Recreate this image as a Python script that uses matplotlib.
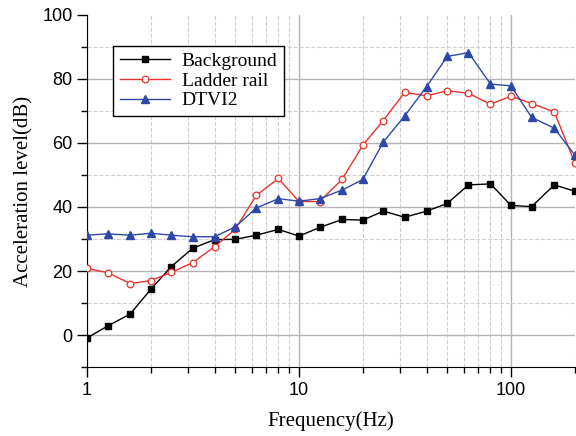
import matplotlib.pyplot as plt
from matplotlib.ticker import LogLocator, NullFormatter, FixedLocator

freq = [1, 1.25, 1.6, 2, 2.5, 3.15, 4, 5, 6.3, 8, 10, 12.5, 16, 20, 25, 31.5,
        40, 50, 63, 80, 100, 125, 160, 200]

background = [-0.9, 2.8, 6.6, 14.3, 21.4, 27.1, 29.8, 29.9, 31.2, 33.0, 30.9, 33.6,
              36.1, 35.9, 38.7, 36.8, 38.7, 41.1, 46.9, 47.2, 40.5, 40.1, 46.9, 44.9]
ladder = [20.8, 19.5, 16.1, 17.0, 19.6, 22.6, 27.6, 33.0, 43.7, 48.9, 41.7, 41.7,
          48.7, 59.3, 67.0, 75.8, 74.7, 76.3, 75.5, 72.1, 74.6, 72.3, 69.7, 53.7]
dtvi2 = [31.2, 31.6, 31.2, 31.8, 31.2, 30.7, 30.7, 33.8, 39.7, 42.6, 41.8, 42.6,
         45.3, 48.6, 60.3, 68.4, 77.6, 87.0, 88.2, 78.4, 77.8, 68.0, 64.6, 56.2]

labfont = 'Liberation Serif'
tickfont = 'Liberation Sans'

fig = plt.figure(figsize=(5.76, 4.36), dpi=100)
ax = fig.add_axes([0.151, 0.158, 0.847, 0.808])

ax.plot(freq, background, color='black', marker='s', markersize=4.5, lw=1,
        label='Background', zorder=3)
ax.plot(freq, ladder, color='#e8322b', marker='o', markersize=4.8, lw=1,
        markerfacecolor='white', markeredgewidth=0.9, label='Ladder rail', zorder=3)
ax.plot(freq, dtvi2, color='#2f48a8', marker='^', markersize=5.5, lw=1,
        label='DTVI2', zorder=3)

ax.set_xscale('log')
ax.set_xlim(1, 200)
ax.set_ylim(-10, 100)
ax.xaxis.set_major_locator(FixedLocator([1, 10, 100]))
ax.xaxis.set_minor_locator(LogLocator(base=10, subs=range(2, 10)))
ax.xaxis.set_minor_formatter(NullFormatter())
ax.set_xticklabels(['1', '10', '100'])
ax.set_yticks([0, 20, 40, 60, 80, 100])
ax.set_yticks([-10, 10, 30, 50, 70, 90], minor=True)

ax.grid(which='major', color='#b4b4b4', lw=1, ls='-', zorder=0)
ax.grid(which='minor', color='#cfcfcf', lw=0.8, ls='--', zorder=0)
ax.get_ygridlines()[-1].set_visible(False)

for s in ['top', 'right']:
    ax.spines[s].set_visible(False)
ax.tick_params(which='major', direction='out', length=7, width=1)
ax.tick_params(which='minor', direction='out', length=4, width=1)
for t in ax.get_xticklabels() + ax.get_yticklabels():
    t.set_fontfamily(tickfont)
    t.set_fontsize(13)

ax.set_xlabel('Frequency(Hz)', fontfamily=labfont, fontsize=15, labelpad=9)
ax.set_ylabel('Acceleration level(dB)', fontfamily=labfont, fontsize=15, labelpad=6)

leg = ax.legend(loc='upper left', bbox_to_anchor=(0.053, 0.912), borderaxespad=0,
                fancybox=False, edgecolor='black', framealpha=1, handlelength=2.6,
                prop={'family': labfont, 'size': 14}, borderpad=0.35,
                labelspacing=0.1, handletextpad=0.6)
leg.get_frame().set_linewidth(1)

fig.savefig('out.png', dpi=100)
